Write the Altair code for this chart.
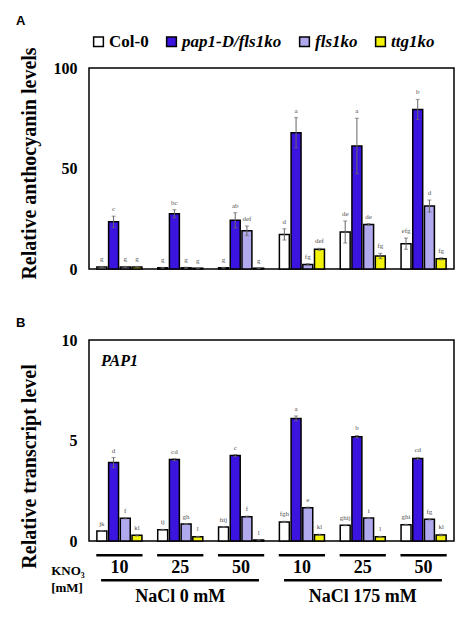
import altair as alt
import pandas as pd

SERIF = "Liberation Serif"
SANS = "Liberation Sans"

genotypes = ["Col-0", "pap1-D/fls1ko", "fls1ko", "ttg1ko"]
colors = ["#ffffff", "#3c14e0", "#b0a9ee", "#f2f20a"]

groups = ["g1", "g2", "g3", "g4", "g5", "g6"]
kno3_labels = ["10", "25", "50", "10", "25", "50"]
salt_labels = ["NaCl 0 mM", "NaCl 175 mM"]

# ---------- Panel A: relative anthocyanin levels ----------
a_col0 = [1.0, 0.6, 0.6, 17.2, 18.4, 12.6]
a_pap1 = [23.5, 27.5, 24.2, 67.8, 61.2, 79.4]
a_fls1 = [1.0, 0.6, 19.0, 2.3, 22.2, 31.3]
a_ttg1 = [1.0, 0.4, 0.4, 9.8, 6.5, 5.1]

a_col0_err = [0.3, 0.2, 0.2, 2.8, 5.5, 2.8]
a_pap1_err = [2.8, 2.0, 3.8, 7.5, 13.8, 5.0]
a_fls1_err = [0.3, 0.3, 2.4, 0.4, 0.4, 3.0]
a_ttg1_err = [0.3, 0.2, 0.2, 0.5, 1.3, 0.5]

a_col0_let = ["g", "g", "g", "d", "de", "efg"]
a_pap1_let = ["c", "bc", "ab", "a", "a", "b"]
a_fls1_let = ["g", "g", "def", "fg", "de", "d"]
a_ttg1_let = ["g", "g", "g", "def", "fg", "fg"]

# ---------- Panel B: PAP1 relative transcript level ----------
b_col0 = [0.50, 0.56, 0.70, 0.95, 0.78, 0.81]
b_pap1 = [3.90, 4.05, 4.25, 6.10, 5.19, 4.11]
b_fls1 = [1.13, 0.85, 1.21, 1.66, 1.14, 1.08]
b_ttg1 = [0.28, 0.21, 0.05, 0.31, 0.21, 0.30]

b_col0_err = [0.02, 0.02, 0.02, 0.03, 0.02, 0.02]
b_pap1_err = [0.25, 0.05, 0.05, 0.12, 0.06, 0.05]
b_fls1_err = [0.03, 0.02, 0.03, 0.03, 0.02, 0.03]
b_ttg1_err = [0.03, 0.02, 0.01, 0.03, 0.02, 0.04]

b_col0_let = ["jk", "ij", "hij", "fgh", "ghij", "ghi"]
b_pap1_let = ["d", "cd", "c", "a", "b", "cd"]
b_fls1_let = ["f", "gh", "f", "e", "i", "fg"]
b_ttg1_let = ["kl", "l", "l", "kl", "l", "kl"]


def to_long(vals, errs, lets):
    rows = []
    for g_i, g in enumerate(groups):
        for s_i, name in enumerate(genotypes):
            v = vals[s_i][g_i]
            e = errs[s_i][g_i]
            rows.append({"group": g, "genotype": name, "value": v,
                         "lo": max(v - e, 0), "hi": v + e, "letter": lets[s_i][g_i]})
    return pd.DataFrame(rows)


dfA = to_long([a_col0, a_pap1, a_fls1, a_ttg1],
              [a_col0_err, a_pap1_err, a_fls1_err, a_ttg1_err],
              [a_col0_let, a_pap1_let, a_fls1_let, a_ttg1_let])
dfB = to_long([b_col0, b_pap1, b_fls1, b_ttg1],
              [b_col0_err, b_pap1_err, b_fls1_err, b_ttg1_err],
              [b_col0_let, b_pap1_let, b_fls1_let, b_ttg1_let])

W, H = 365, 201

label_map = "{" + ",".join(f"'{g}':'{l}'" for g, l in zip(groups, kno3_labels)) + "}"
x_scale = alt.Scale(domain=groups, paddingInner=0.24, paddingOuter=0.12)
xoff = alt.XOffset("genotype:N", sort=genotypes,
                   scale=alt.Scale(domain=genotypes, paddingInner=0.15, paddingOuter=0.05))


def panel(df, ymax, yvals, ytitle, title_y, show_x_labels, legend):
    if show_x_labels:
        x_axis = alt.Axis(title=None, labelExpr=label_map + "[datum.value]", labelAngle=0,
                          labelFont=SERIF, labelFontSize=18, labelFontWeight="bold",
                          labelColor="black", domain=False, ticks=False, labelPadding=17)
    else:
        x_axis = None
    x = alt.X("group:N", sort=groups, scale=x_scale, axis=x_axis)
    y_scale = alt.Scale(domain=[0, ymax], nice=False)
    y_axis = alt.Axis(values=yvals, title=ytitle, titleFont=SERIF, titleFontSize=20,
                      titleFontWeight="bold", titleColor="black", titleX=-50, titleY=title_y,
                      labelFont=SERIF, labelFontSize=16, labelFontWeight="bold",
                      labelColor="black", labelPadding=12, domain=False, ticks=False, grid=False)
    y = lambda f: alt.Y(f, scale=y_scale, axis=y_axis)
    color = alt.Color("genotype:N", sort=genotypes,
                      scale=alt.Scale(domain=genotypes, range=colors), legend=legend)
    base = alt.Chart(df)
    bars = base.mark_bar(stroke="black", strokeWidth=1.5, opacity=1).encode(
        x=x, xOffset=xoff, y=y("value:Q"), color=color)
    err = base.mark_rule(color="#666666", strokeWidth=1).encode(
        x=x, xOffset=xoff, y=y("lo:Q"), y2="hi:Q")
    cap_hi = base.mark_tick(orient="horizontal", color="#666666", size=4, thickness=1).encode(
        x=x, xOffset=xoff, y=y("hi:Q"))
    cap_lo = base.mark_tick(orient="horizontal", color="#666666", size=4, thickness=1).encode(
        x=x, xOffset=xoff, y=y("lo:Q"))
    letters = base.mark_text(font=SERIF, fontSize=7, color="#555555", baseline="bottom",
                             dy=-4).encode(
        x=x, xOffset=xoff, y=y("hi:Q"), text="letter:N")
    return [bars, err, cap_hi, cap_lo, letters], x


one = pd.DataFrame({"k": [0]})

# Panel A
layersA, _ = panel(
    dfA, 100, [0, 50, 100], "Relative anthocyanin levels", 95, False,
    alt.Legend(orient="none", legendX=1, legendY=-35, direction="horizontal", title=None,
               symbolType="square", symbolSize=95, symbolStrokeColor="black",
               symbolStrokeWidth=1.5, symbolOpacity=1, labelFont=SERIF, labelFontSize=17,
               labelFontWeight="bold", labelColor="black",
               labelFontStyle=alt.ExprRef("datum.label == 'Col-0' ? 'normal' : 'italic'"),
               columnPadding=14, labelOffset=2, padding=0))
labelA = alt.Chart(one).mark_text(font=SANS, fontSize=13, fontWeight="bold", align="left",
                                  baseline="middle", color="black").encode(
    x=alt.value(-73), y=alt.value(-47), text=alt.value("A"))
chartA = alt.layer(*layersA, labelA).properties(width=W, height=H)

# Panel B
layersB, xB = panel(dfB, 10, [0, 5, 10], "Relative transcript level", 126, True, None)
underline = alt.Chart(pd.DataFrame({"group": groups})).mark_bar(color="black").encode(
    x=xB, y=alt.value(H + 13), y2=alt.value(H + 15.5))
labelB = alt.Chart(one).mark_text(font=SANS, fontSize=13, fontWeight="bold", align="left",
                                  baseline="middle", color="black").encode(
    x=alt.value(-73), y=alt.value(-17), text=alt.value("B"))
pap1_label = alt.Chart(one).mark_text(font=SERIF, fontSize=16, fontWeight="bold",
                                      fontStyle="italic", align="left", baseline="middle",
                                      color="black").encode(
    x=alt.value(12), y=alt.value(21), text=alt.value("PAP1"))
kno3_text = alt.Chart(one).mark_text(font=SERIF, fontSize=13, fontWeight="bold",
                                     align="center", baseline="middle", color="black").encode(
    x=alt.value(-21), y=alt.value(H + 30), text=alt.value("KNO₃"))
mm_text = alt.Chart(one).mark_text(font=SERIF, fontSize=13, fontWeight="bold",
                                   align="center", baseline="middle", color="black").encode(
    x=alt.value(-22), y=alt.value(H + 47), text=alt.value("[mM]"))
innerB = alt.layer(*layersB, underline, labelB, pap1_label, kno3_text, mm_text)

salt_df = pd.DataFrame({"salt": salt_labels})
salt_x = alt.X("salt:N", sort=salt_labels,
               scale=alt.Scale(domain=salt_labels, paddingInner=0.137, paddingOuter=0.066),
               axis=None)
salt_line = alt.Chart(salt_df).mark_bar(color="black").encode(
    x=salt_x, y=alt.value(H + 38), y2=alt.value(H + 40.5))
salt_text = alt.Chart(salt_df).mark_text(font=SERIF, fontSize=18, fontWeight="bold",
                                         baseline="middle", color="black").encode(
    x=salt_x, y=alt.value(H + 56), text="salt:N")
chartB = alt.layer(innerB, salt_line, salt_text).resolve_scale(x="independent").properties(
    width=W, height=H)

chart = alt.vconcat(chartA, chartB, spacing=36).resolve_legend(color="independent").properties(
    padding={"left": 7, "top": 6, "right": 5, "bottom": 5}
).configure_view(stroke="black", strokeWidth=1.5)

chart.save("out.html", embed_options={"renderer": "svg", "actions": False})
